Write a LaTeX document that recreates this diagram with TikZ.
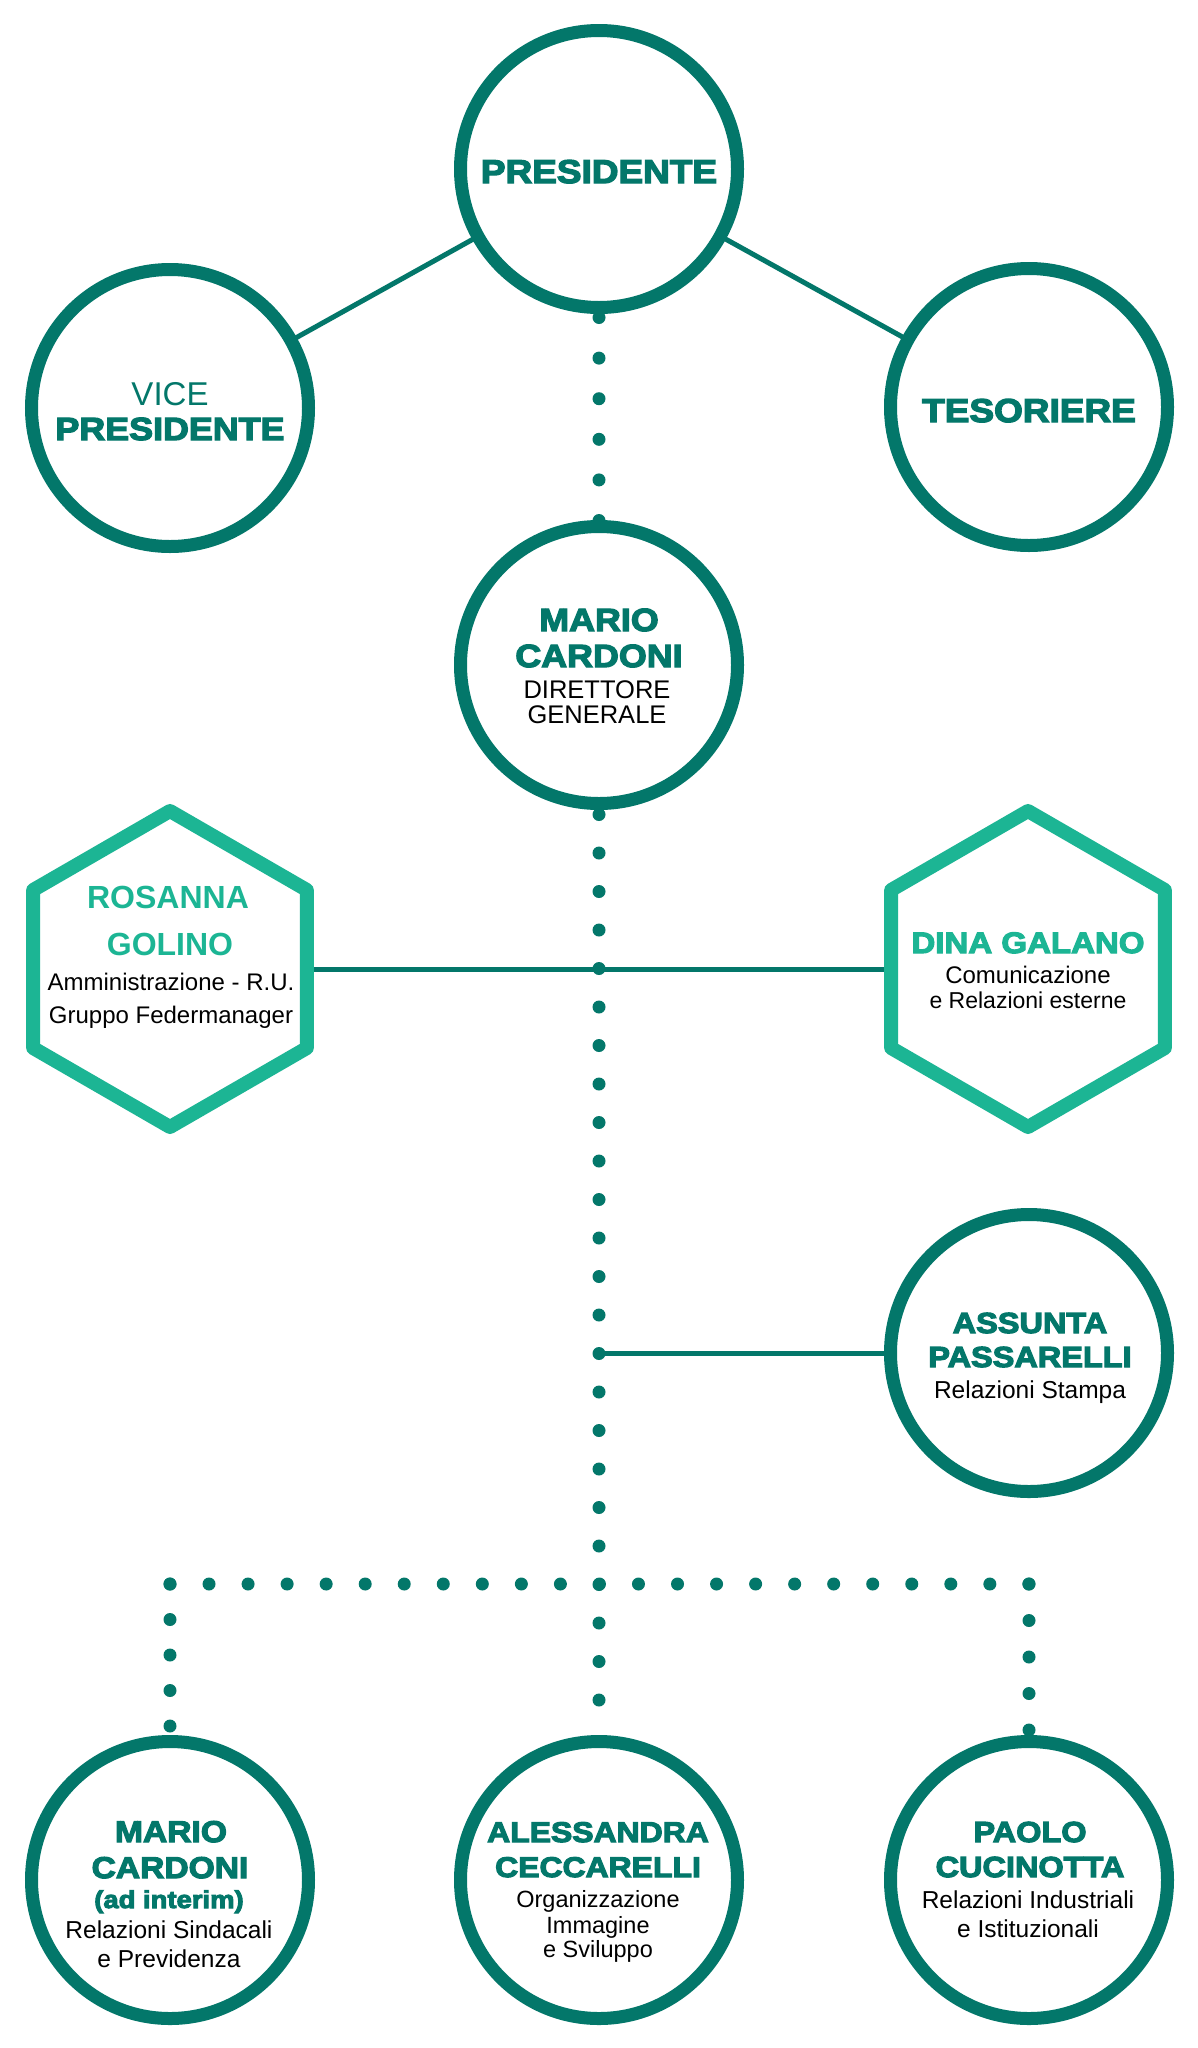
\documentclass[tikz,border=0pt]{standalone}
\usepackage{fontspec}
\setmainfont{Liberation Sans}
\newfontfamily\heavy[FakeBold=4,FakeStretch=1.12]{Liberation Sans Bold}
\newfontfamily\semib{Liberation Sans Bold}
\usetikzlibrary{shapes.geometric,decorations.markings,calc}
\definecolor{dteal}{HTML}{03776A}
\definecolor{lteal}{HTML}{1CB594}
\pgfdeclarelayer{bg}
\pgfsetlayers{bg,main}
\begin{document}
\begin{tikzpicture}[x=1pt,y=-1pt,
  ring/.style={circle, draw=dteal, line width=13pt, fill=white, minimum size=277pt, inner sep=0pt, outer sep=0pt},
  hexa/.style={regular polygon, regular polygon sides=6, shape border rotate=30, draw=lteal, line width=14pt, line join=round, fill=white, minimum size=316pt, inner sep=0pt, outer sep=0pt},
  link/.style={draw=dteal, line width=5pt},
  nm/.style={anchor=base, inner sep=0pt, text=dteal, font=\heavy\fontsize{#1}{#1}\selectfont},
  nm/.default=30,
  sb/.style={anchor=base, inner sep=0pt, text=black, font=\fontsize{#1}{#1}\selectfont},
  sb/.default=24,
  dots/.style={decorate, decoration={markings, mark=between positions 0 and 1 step #1 with {\fill[dteal] (0,0) circle [radius=6.5pt];}}}
]
\begin{pgfonlayer}{bg}
\path[use as bounding box, fill=white] (0,0) rectangle (1197,2048);
\end{pgfonlayer}

% shapes
\node[ring] (pres) at (599,169) {};
\node[ring] (vice) at (170,408) {};
\node[ring] (tes) at (1029,407) {};
\node[ring] (dg) at (599,665) {};
\node[hexa] (ros) at (170,969) {};
\node[hexa] (dina) at (1028,969) {};
\node[ring] (ass) at (1029,1353) {};
\node[ring] (b1) at (170,1880) {};
\node[ring] (b2) at (599,1880) {};
\node[ring] (b3) at (1029,1880) {};

\coordinate (hub) at (599,1584);
\coordinate (lc) at (b1 |- hub);
\coordinate (rc) at (b3 |- hub);
\coordinate (aj) at (dg |- ass);

\begin{pgfonlayer}{bg}
  \draw[link] (pres) -- (vice);
  \draw[link] (pres) -- (tes);
  \draw[link] (ros) -- (dina);
  \draw[link] (aj) -- (ass);
  \path[dots=40.6pt] ($(pres.south)+(0,10)$) -- (dg.north);
  \path[dots=38.5pt] ($(dg.south)+(0,11)$) -- ($(b2.north)+(0,-41)$);
  \path[dots=39.04pt] (lc) -- (rc);
  \path[dots=35.5pt] (lc) -- (b1.north);
  \path[dots=36.5pt] (rc) -- (b3.north);
\end{pgfonlayer}

% texts
\node[nm=33] (presA) at (599,183) {PRESIDENTE};

\node[anchor=base, inner sep=0pt, text=dteal, font=\fontsize{33}{33}\selectfont] (viceA) at (170,405) {VICE};
\node[nm=32] (viceB) at (170,440) {PRESIDENTE};

\node[nm=33] (tesA) at (1029,422) {TESORIERE};

\node[nm=32] (dgA) at (599,631) {MARIO};
\node[nm=32] (dgB) at (599,667) {CARDONI};
\node[sb=25.5] (dgC) at (597,698) {DIRETTORE};
\node[sb=25.5] (dgD) at (597,723) {GENERALE};

\node[anchor=base, inner sep=0pt, text=lteal, font=\semib\fontsize{32}{32}\selectfont] (rosA) at (168,908) {ROSANNA};
\node[anchor=base, inner sep=0pt, text=lteal, font=\semib\fontsize{32}{32}\selectfont] (rosB) at (170,955) {GOLINO};
\node[sb=24] (rosC) at (171,990) {Amministrazione - R.U.};
\node[sb=24] (rosD) at (171,1023) {Gruppo Federmanager};

\node[nm=29.5, text=lteal] (dinaA) at (1028,953) {DINA GALANO};
\node[sb=24] (dinaB) at (1028,983) {Comunicazione};
\node[sb=23] (dinaC) at (1028,1008) {e Relazioni esterne};

\node[nm=29] (assA) at (1030,1333) {ASSUNTA};
\node[nm=29] (assB) at (1030,1367) {PASSARELLI};
\node[sb=24.5] (assC) at (1030,1398) {Relazioni Stampa};

\node[nm=30] (b1A) at (171,1842) {MARIO};
\node[nm=30] (b1B) at (170,1878) {CARDONI};
\node[nm=24.5] (b1C) at (169,1908) {(ad interim)};
\node[sb=24.5] (b1D) at (169,1938) {Relazioni Sindacali};
\node[sb=24.5] (b1E) at (169,1967) {e Previdenza};

\node[nm=28.5] (b2A) at (598,1842) {ALESSANDRA};
\node[nm=28.5] (b2B) at (598,1877) {CECCARELLI};
\node[sb=23.5] (b2C) at (598,1907) {Organizzazione};
\node[sb=23.5] (b2D) at (598,1933) {Immagine};
\node[sb=23.5] (b2E) at (598,1957) {e Sviluppo};

\node[nm=29] (b3A) at (1030,1842) {PAOLO};
\node[nm=29] (b3B) at (1030,1877) {CUCINOTTA};
\node[sb=24.5] (b3C) at (1028,1908) {Relazioni Industriali};
\node[sb=24.5] (b3D) at (1028,1937) {e Istituzionali};
\end{tikzpicture}
\end{document}
